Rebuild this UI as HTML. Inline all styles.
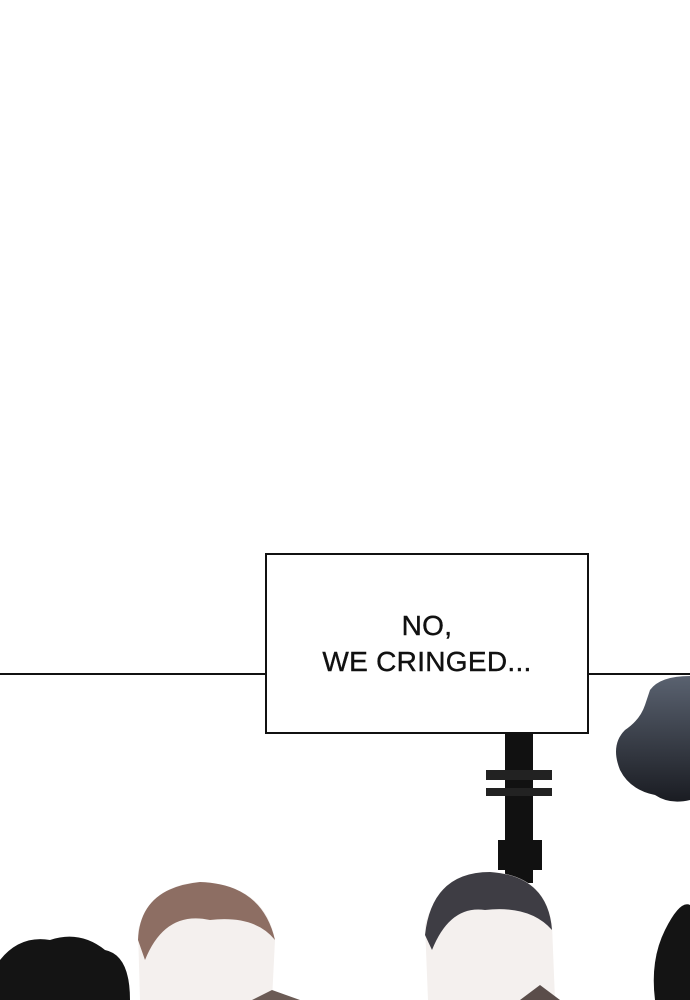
<!DOCTYPE html>
<html><head><meta charset="utf-8"><style>
html,body{margin:0;padding:0;background:#fff;}
#c{position:relative;width:690px;height:1000px;overflow:hidden;background:#fff;}
.box{position:absolute;left:265px;top:553px;width:320px;height:177px;border:2px solid #111;background:#fff;display:flex;align-items:center;justify-content:center;text-align:center;font-family:"Liberation Sans",sans-serif;font-size:28px;line-height:36px;color:#111;letter-spacing:0.3px;-webkit-text-stroke:0.4px #111;}
</style></head><body><div id="c">
<svg width="690" height="1000" style="position:absolute;left:0;top:0">
<defs><linearGradient id="g" x1="0" y1="0" x2="0" y2="1"><stop offset="0" stop-color="#5a6270"/><stop offset="1" stop-color="#1a1c22"/></linearGradient></defs>
<line x1="0" y1="674" x2="266" y2="674" stroke="#111" stroke-width="2"/>
<line x1="588" y1="674" x2="690" y2="674" stroke="#111" stroke-width="2"/>
<path d="M650 690 Q660 676 690 676 L690 800 Q670 805 655 795 Q630 790 620 770 Q610 745 625 730 Q640 720 645 705 Z" fill="url(#g)"/>
<rect x="505" y="733" width="28" height="150" fill="#111"/>
<rect x="486" y="770" width="66" height="10" fill="#222"/>
<rect x="486" y="788" width="66" height="8" fill="#222"/>
<rect x="498" y="840" width="44" height="30" fill="#111"/>
<path d="M0 960 Q20 935 50 940 Q80 930 105 950 Q130 955 130 1000 L0 1000 Z" fill="#141414"/>
<path d="M665 930 Q680 900 690 905 L690 1000 L655 1000 Q650 960 665 930 Z" fill="#141414"/>
<path d="M140 1000 L138 930 Q150 885 200 882 Q265 885 275 940 L272 1000 Z" fill="#f4f0ee"/>
<path d="M138 940 Q140 888 200 882 Q262 884 275 940 Q255 915 210 920 Q165 910 145 960 Z" fill="#8d6e63"/>
<path d="M428 1000 L425 925 Q440 872 490 872 Q545 875 552 925 L555 1000 Z" fill="#f4f0ee"/>
<path d="M425 935 Q432 872 490 872 Q548 876 552 930 Q530 905 485 910 Q450 905 432 950 Z" fill="#3e3d44"/>
<path d="M272 990 L300 1000 L252 1000 Z" fill="#6b5b55"/>
<path d="M540 985 L560 1000 L520 1000 Z" fill="#5a4d4a"/>
</svg>
<div class="box">NO,<br>WE CRINGED...</div>
</div></body></html>
